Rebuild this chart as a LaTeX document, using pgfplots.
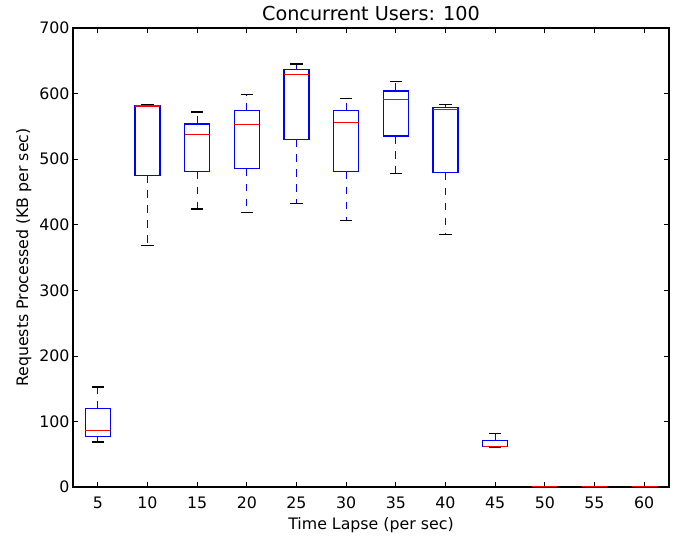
\documentclass[border=0pt]{standalone}
\usepackage{fontspec}
\setmainfont{DejaVu Sans}
\usepackage{pgfplots}
\pgfplotsset{compat=1.18}
\begin{document}
\begin{tikzpicture}
\path[use as bounding box] (-73pt,-50pt) rectangle (602pt,487pt);
\begin{axis}[
  at={(0,0)}, anchor=south west,
  scale only axis, width=596pt, height=459pt,
  xmin=0.5, xmax=12.5, ymin=0, ymax=700,
  unbounded coords=jump,
  xtick={1,2,3,4,5,6,7,8,9,10,11,12},
  xticklabels={5,10,15,20,25,30,35,40,45,50,55,60},
  ytick={0,100,200,300,400,500,600,700},
  tick align=inside, major tick length=5.3pt,
  tick style={black, line width=0.7pt},
  axis line style={line width=1.2pt},
  /pgf/number format/assume math mode=true,
  every tick label/.append style={font=\fontsize{15.8}{18}\selectfont},
  every x tick label/.append style={anchor=base, yshift=-21.3pt},
  title={Concurrent Users: 100},
  every axis title/.style={at={(axis description cs:0.5,1.0159)}, anchor=base, font=\fontsize{19.2}{22}\selectfont},
  xlabel={Time Lapse (per sec)},
  ylabel={Requests Processed (KB per sec)},
  every axis x label/.style={at={(axis description cs:0.5,-0.0922)}, anchor=base, font=\fontsize{15.8}{18}\selectfont},
  every axis y label/.style={at={(axis description cs:-0.0755,0.5)}, anchor=base, rotate=90, font=\fontsize{15.8}{18}\selectfont},
  whisk/.style={blue, line width=1.2pt, dash pattern=on 7.7pt off 7.3pt},
  capst/.style={black, line width=1.2pt},
  boxst/.style={blue, line width=1.2pt, line cap=rect, line join=miter},
  medst/.style={red, line width=1.2pt},
]
% lower whiskers
\addplot[whisk] coordinates {(1,77.2)(1,68.6)(1.5,nan)(2,475.5)(2,368)(2.5,nan)(3,481)(3,424)(3.5,nan)(4,485.6)(4,418.6)(4.5,nan)(5,530)(5,432)(5.5,nan)(6,481)(6,407)(6.5,nan)(7,535.4)(7,478)(7.5,nan)(8,479.6)(8,384.5)(8.5,nan)(9,61.5)(9,61)};
% upper whiskers
\addplot[whisk] coordinates {(1,119.4)(1,152.4)(1.5,nan)(2,582)(2,583)(2.5,nan)(3,553.7)(3,572)(3.5,nan)(4,574.5)(4,598.5)(4.5,nan)(5,636.6)(5,645)(5.5,nan)(6,574.5)(6,592)(6.5,nan)(7,604)(7,619)(7.5,nan)(8,578.6)(8,583.7)(8.5,nan)(9,71)(9,82)};
% lower caps
\addplot[capst] coordinates {(0.875,68.6)(1.125,68.6)(1.5,nan)(1.875,368)(2.125,368)(2.5,nan)(2.875,424)(3.125,424)(3.5,nan)(3.875,418.6)(4.125,418.6)(4.5,nan)(4.875,432)(5.125,432)(5.5,nan)(5.875,407)(6.125,407)(6.5,nan)(6.875,478)(7.125,478)(7.5,nan)(7.875,384.5)(8.125,384.5)(8.5,nan)(8.875,61)(9.125,61)(9.5,nan)(9.875,0)(10.125,0)(10.5,nan)(10.875,0)(11.125,0)(11.5,nan)(11.875,0)(12.125,0)};
% upper caps
\addplot[capst] coordinates {(0.875,152.4)(1.125,152.4)(1.5,nan)(1.875,583)(2.125,583)(2.5,nan)(2.875,572)(3.125,572)(3.5,nan)(3.875,598.5)(4.125,598.5)(4.5,nan)(4.875,645)(5.125,645)(5.5,nan)(5.875,592)(6.125,592)(6.5,nan)(6.875,619)(7.125,619)(7.5,nan)(7.875,583.7)(8.125,583.7)(8.5,nan)(8.875,82)(9.125,82)(9.5,nan)(9.875,0)(10.125,0)(10.5,nan)(10.875,0)(11.125,0)(11.5,nan)(11.875,0)(12.125,0)};
% boxes
\addplot[boxst] coordinates {(0.75,77.2)(1.25,77.2)(1.25,119.4)(0.75,119.4)(0.75,77.2)(1.5,nan)
(1.75,475.5)(2.25,475.5)(2.25,582)(1.75,582)(1.75,475.5)(2.5,nan)
(2.75,481)(3.25,481)(3.25,553.7)(2.75,553.7)(2.75,481)(3.5,nan)
(3.75,485.6)(4.25,485.6)(4.25,574.5)(3.75,574.5)(3.75,485.6)(4.5,nan)
(4.75,530)(5.25,530)(5.25,636.6)(4.75,636.6)(4.75,530)(5.5,nan)
(5.75,481)(6.25,481)(6.25,574.5)(5.75,574.5)(5.75,481)(6.5,nan)
(6.75,535.4)(7.25,535.4)(7.25,604)(6.75,604)(6.75,535.4)(7.5,nan)
(7.75,479.6)(8.25,479.6)(8.25,578.6)(7.75,578.6)(7.75,479.6)(8.5,nan)
(8.75,61.5)(9.25,61.5)(9.25,71)(8.75,71)(8.75,61.5)(9.5,nan)
(9.75,0)(10.25,0)(10.5,nan)(10.75,0)(11.25,0)(11.5,nan)(11.75,0)(12.25,0)};
% medians
\addplot[medst] coordinates {(0.75,86.4)(1.25,86.4)(1.5,nan)(1.75,581)(2.25,581)(2.5,nan)(2.75,538)(3.25,538)(3.5,nan)(3.75,552.7)(4.25,552.7)(4.5,nan)(4.75,629)(5.25,629)(5.5,nan)(5.75,556)(6.25,556)(6.5,nan)(6.75,591)(7.25,591)(7.5,nan)(7.75,575.6)(8.25,575.6)(8.5,nan)(8.75,62)(9.25,62)(9.5,nan)(9.75,0)(10.25,0)(10.5,nan)(10.75,0)(11.25,0)(11.5,nan)(11.75,0)(12.25,0)};
\end{axis}
\end{tikzpicture}
\end{document}
